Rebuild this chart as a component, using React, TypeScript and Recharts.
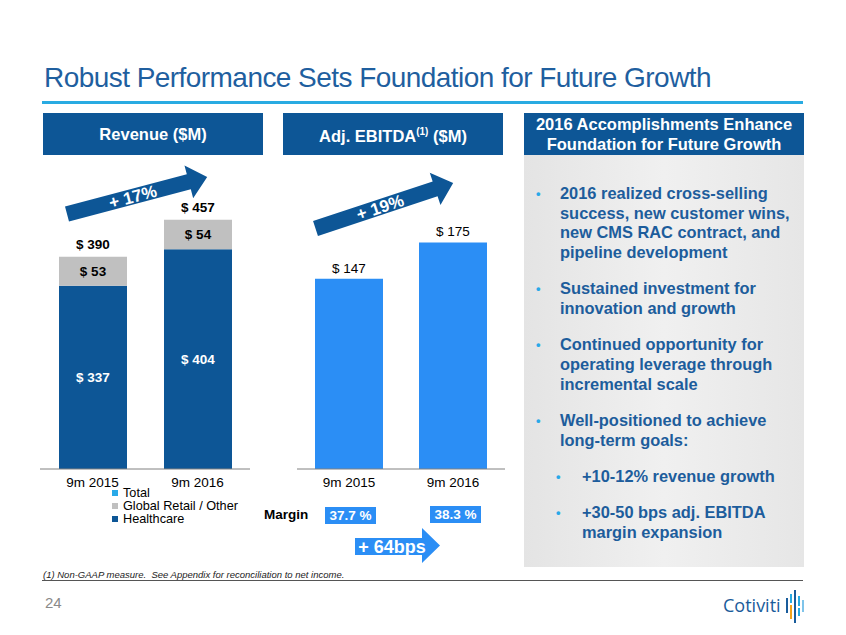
import { BarChart, Bar, XAxis, YAxis, LabelList } from 'recharts';

// chart values
const periods = ['9m 2015', '9m 2016'];
const healthcare = [337, 404];
const globalRetail = [53, 54];
const revenueTotal = [390, 457];
const adjEbitda = [147, 175];
const ebitdaMargin = ['37.7 %', '38.3 %'];
const revenueGrowth = '+ 17%';
const ebitdaGrowth = '+ 19%';
const marginChange = '+ 64bps';
const legendNames = ['Total', 'Global Retail / Other', 'Healthcare'];

const bullets = [
  ['2016 realized cross-selling', 'success, new customer wins,', 'new CMS RAC contract, and', 'pipeline development'],
  ['Sustained investment for', 'innovation and growth'],
  ['Continued opportunity for', 'operating leverage through', 'incremental scale'],
  ['Well-positioned to achieve', 'long-term goals:'],
];
const subBullets = [['+10-12% revenue growth'], ['+30-50 bps adj. EBITDA', 'margin expansion']];

const revenueData = periods.map((period, i) => ({
  period,
  healthcare: healthcare[i],
  other: globalRetail[i],
  total: revenueTotal[i],
}));
const ebitdaData = periods.map((period, i) => ({ period, ebitda: adjEbitda[i] }));

const FONT = '"Liberation Sans", Arial, sans-serif';
const NAVY = '#0d5696';
const BRIGHT = '#2b8ef5';
const GRAY = '#c0c0c0';
const TEXT_BLUE = '#1d5d9c';
const LIGHT = '#29a9e8';
const LINE_H = 19.7;

const money = (v: any) => `$ ${v}`;

function Arrow({ x, y, angle, label }: { x: number; y: number; angle: number; label: string }) {
  return (
    <g transform={`translate(${x},${y}) rotate(${angle})`}>
      <polygon points="0,-7.8 126,-7.8 126,-17 145,0 126,17 126,7.8 0,7.8" fill={NAVY} />
      <text x={68} y={6} textAnchor="middle" fill="#fff" fontSize={17} fontWeight="bold" fontFamily={FONT}>
        {label}
      </text>
    </g>
  );
}

export default function App() {
  const abs = (left: number, top: number, extra: any = {}) => ({ position: 'absolute' as const, left, top, ...extra });
  const header = (left: number, width: number) =>
    abs(left, 113, {
      width,
      height: 42,
      background: NAVY,
      color: '#fff',
      fontWeight: 'bold',
      fontSize: 16.5,
      display: 'flex',
      alignItems: 'center',
      justifyContent: 'center',
      textAlign: 'center',
      lineHeight: '20px',
    });

  let lineY = 184;
  const bulletLines: any[] = [];
  const addList = (list: string[][], dotX: number, textX: number, prefix: string) => {
    list.forEach((b, bi) => {
      bulletLines.push(
        <div key={`${prefix}d${bi}`} style={abs(dotX, lineY, { color: LIGHT, fontSize: 13, lineHeight: `${LINE_H}px` })}>•</div>
      );
      b.forEach((t, ti) => {
        bulletLines.push(
          <div key={`${prefix}t${bi}-${ti}`} style={abs(textX, lineY + ti * LINE_H, { whiteSpace: 'nowrap', lineHeight: `${LINE_H}px` })}>
            {t}
          </div>
        );
      });
      lineY += b.length * LINE_H + 16.5;
    });
  };
  addList(bullets, 536, 560, 'b');
  addList(subBullets, 556, 582, 's');

  const legendColors = [LIGHT, GRAY, NAVY];

  return (
    <div style={{ position: 'relative', width: 846, height: 635, background: '#fff', fontFamily: FONT, overflow: 'hidden' }}>
      <style>{'body{margin:0}'}</style>

      <div style={abs(44, 62, { fontSize: 28, color: '#1f5f9f', whiteSpace: 'nowrap', letterSpacing: -0.55 })}>
        Robust Performance Sets Foundation for Future Growth
      </div>
      <div style={abs(42, 101, { width: 761, height: 3, background: '#29abe2' })} />

      <div style={header(43, 220)}>Revenue ($M)</div>
      <div style={header(283, 220)}>
        <span>
          Adj. EBITDA<sup style={{ fontSize: 10 }}>(1)</sup> ($M)
        </span>
      </div>
      <div style={header(524, 280)}>
        2016 Accomplishments Enhance
        <br />
        Foundation for Future Growth
      </div>

      <div
        style={abs(524, 155, {
          width: 280,
          height: 412,
          background: 'linear-gradient(to right, #e4e4e4, #f0f0f0 50%, #e6e6e6)',
        })}
      />
      <div style={abs(0, 0, { color: TEXT_BLUE, fontWeight: 'bold', fontSize: 16.4 })}>{bulletLines}</div>

      <div style={abs(40, 189)}>
        <BarChart width={210} height={310} data={revenueData} margin={{ top: 8, right: 0, left: 0, bottom: 0 }}>
          <XAxis
            dataKey="period"
            height={30}
            tickLine={false}
            axisLine={{ stroke: '#808080' }}
            tick={{ fill: '#000', fontSize: 13.5, fontFamily: FONT }}
          />
          <YAxis hide domain={[0, 500]} />
          <Bar dataKey="healthcare" stackId="a" fill={NAVY} barSize={68} isAnimationActive={false}>
            <LabelList dataKey="healthcare" position="center" formatter={money} fill="#fff" fontSize={13.5} fontWeight="bold" fontFamily={FONT} />
          </Bar>
          <Bar dataKey="other" stackId="a" fill={GRAY} barSize={68} isAnimationActive={false}>
            <LabelList dataKey="other" position="center" formatter={money} fill="#000" fontSize={13.5} fontWeight="bold" fontFamily={FONT} />
            <LabelList dataKey="total" position="top" offset={8} formatter={money} fill="#000" fontSize={13.5} fontWeight="bold" fontFamily={FONT} />
          </Bar>
        </BarChart>
      </div>

      <div style={abs(297, 202)}>
        <BarChart width={208} height={297} data={ebitdaData} margin={{ top: 8, right: 0, left: 0, bottom: 0 }}>
          <XAxis
            dataKey="period"
            height={30}
            tickLine={false}
            axisLine={{ stroke: '#808080' }}
            tick={{ fill: '#000', fontSize: 13.5, fontFamily: FONT }}
          />
          <YAxis hide domain={[0, 200]} />
          <Bar dataKey="ebitda" fill={BRIGHT} barSize={68} isAnimationActive={false}>
            <LabelList dataKey="ebitda" position="top" offset={6} formatter={money} fill="#000" fontSize={13.5} fontFamily={FONT} />
          </Bar>
        </BarChart>
      </div>

      {legendNames.map((name, i) => (
        <div key={name} style={abs(112, 487 + i * 13, { fontSize: 12.7, lineHeight: '13px', color: '#000', whiteSpace: 'nowrap' })}>
          <span style={{ display: 'inline-block', width: 6, height: 6, background: legendColors[i], marginRight: 5, verticalAlign: 1 }} />
          {name}
        </div>
      ))}

      <div style={abs(264, 507, { fontSize: 13.5, fontWeight: 'bold', color: '#000' })}>Margin</div>
      {ebitdaMargin.map((m, i) => (
        <div
          key={m}
          style={abs(i === 0 ? 325 : 430, i === 0 ? 507 : 505.5, {
            width: 51,
            height: 17,
            background: BRIGHT,
            color: '#fff',
            fontWeight: 'bold',
            fontSize: 13.5,
            lineHeight: '17px',
            textAlign: 'center',
          })}
        >
          {m}
        </div>
      ))}

      <svg width={846} height={635} style={abs(0, 0, { pointerEvents: 'none' })}>
        <Arrow x={67} y={214} angle={-14.8} label={revenueGrowth} />
        <Arrow x={315.5} y={228.5} angle={-18.3} label={ebitdaGrowth} />
        <polygon points="355,538 422,538 422,528 440,545.5 422,563 422,555 355,555" fill={BRIGHT} />
        <text x={392} y={553} textAnchor="middle" fill="#fff" fontSize={18} fontWeight="bold" fontFamily={FONT}>
          {marginChange}
        </text>
        <line x1={42} y1={580.5} x2={803} y2={580.5} stroke="#555" strokeWidth={1} />
        <text x={43} y={578} fontSize={9.5} fontStyle="italic" fill="#222" fontFamily={FONT} style={{ whiteSpace: 'pre' }}>
          (1) Non-GAAP measure.  See Appendix for reconciliation to net income.
        </text>
        <text x={45} y={608} fontSize={15} fill="#8a8a8a" fontFamily={FONT}>
          24
        </text>
        <text x={723} y={612} fontSize={18} fill="#1a5c9b" fontFamily='"Open Sans", sans-serif'>
          Cotiviti
        </text>
        <rect x={786} y={598} width={2} height={15} fill="#1a5c9b" />
        <rect x={790} y={594} width={2} height={9} fill="#29abe2" />
        <rect x={790} y={605} width={2} height={14} fill="#f2a31b" />
        <rect x={794} y={590} width={2} height={33} fill="#1a5c9b" />
        <rect x={798} y={596} width={2} height={10} fill="#29abe2" />
        <rect x={798} y={608} width={2} height={8} fill="#29abe2" />
        <rect x={802} y={600} width={2} height={12} fill="#7fc4ea" />
      </svg>
    </div>
  );
}
